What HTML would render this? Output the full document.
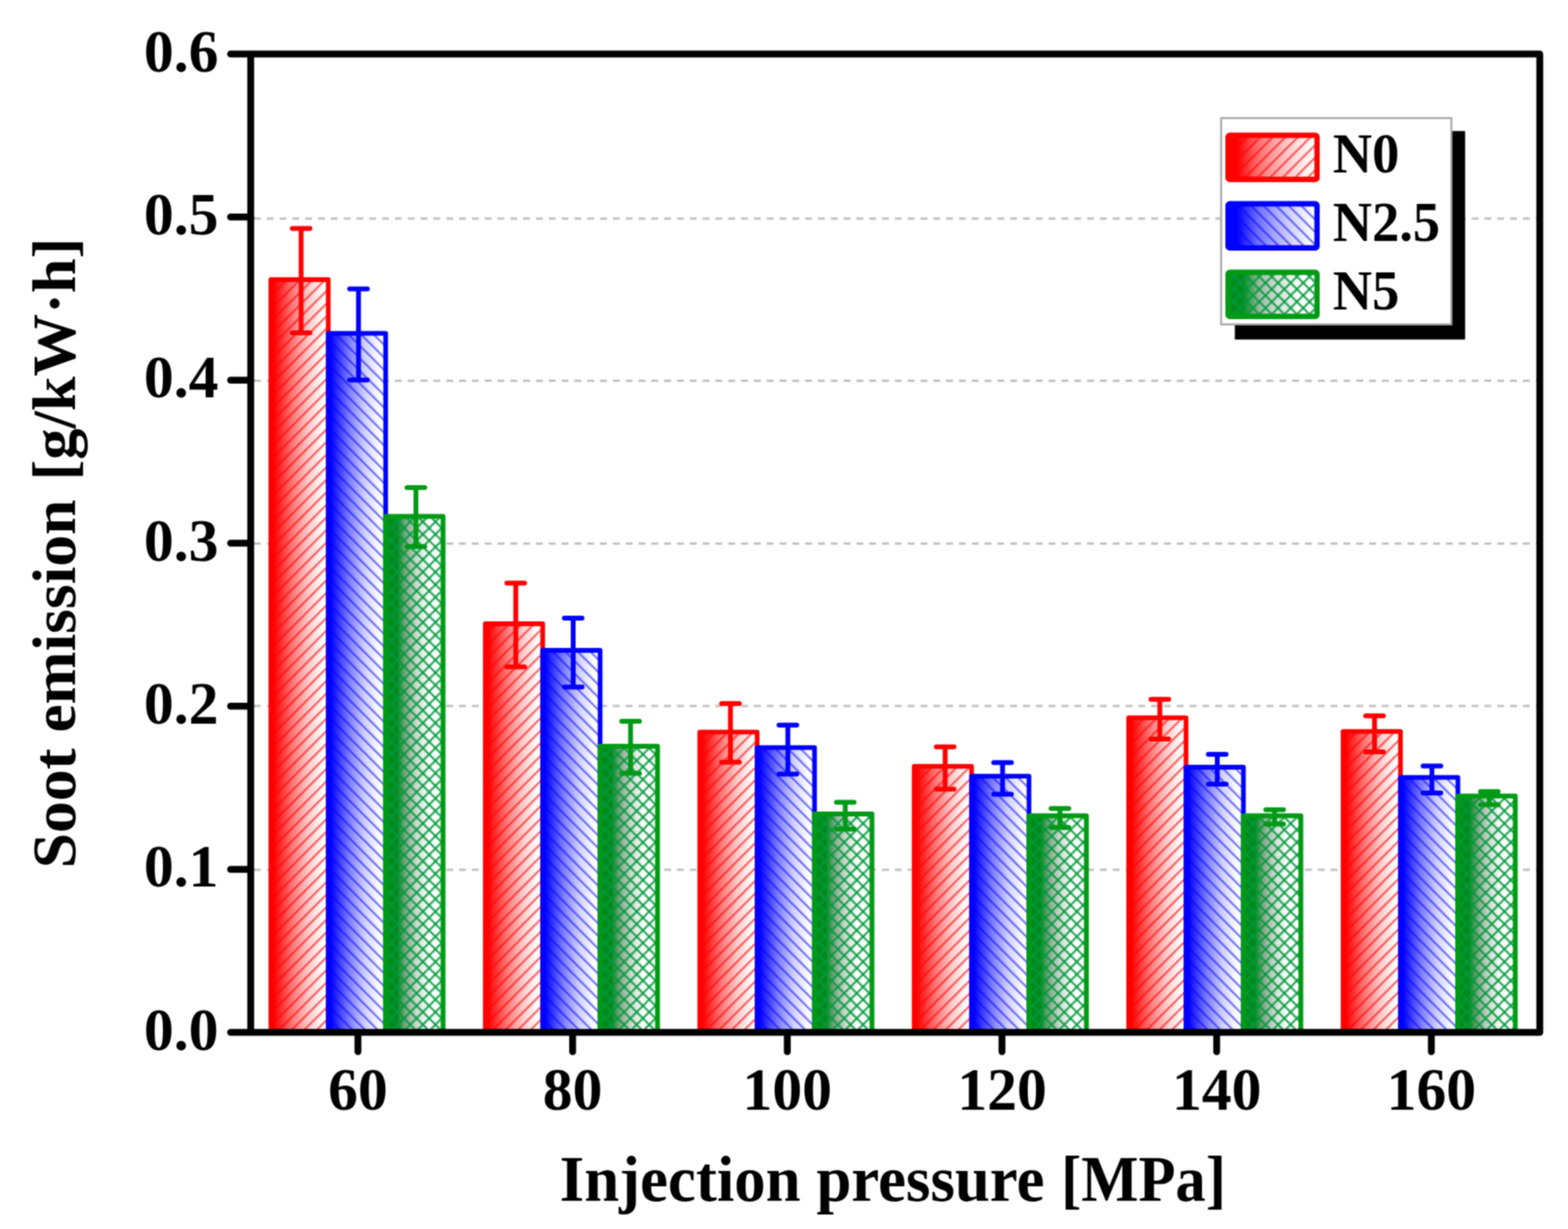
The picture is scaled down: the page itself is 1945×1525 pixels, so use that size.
<!DOCTYPE html><html><head><meta charset="utf-8"><title>Soot emission vs injection pressure</title>
<style>html,body{margin:0;padding:0;background:#fff;}svg{display:block;}text{font-family:"Liberation Serif","Times New Roman",serif;font-weight:bold;fill:#000;}</style></head><body>
<svg width="1945" height="1525" viewBox="0 0 1945 1525">
<defs>
<linearGradient id="gR" x1="0" y1="0" x2="1" y2="0"><stop offset="0.05" stop-color="#ff0000"/><stop offset="0.38" stop-color="#ff7878"/><stop offset="0.66" stop-color="#ffcccc"/><stop offset="0.92" stop-color="#ffffff"/></linearGradient>
<linearGradient id="gB" x1="0" y1="0" x2="1" y2="0"><stop offset="0.04" stop-color="#0000ff"/><stop offset="0.36" stop-color="#7a7aff"/><stop offset="0.64" stop-color="#d0d0ff"/><stop offset="0.9" stop-color="#ffffff"/></linearGradient>
<linearGradient id="gG" x1="0" y1="0" x2="1" y2="0"><stop offset="0.2" stop-color="#008a1c"/><stop offset="0.36" stop-color="#88a88e"/><stop offset="0.54" stop-color="#cdd8cf"/><stop offset="0.76" stop-color="#ffffff"/></linearGradient>
<linearGradient id="gRL" x1="0" y1="0" x2="1" y2="0"><stop offset="0.1" stop-color="#ff0000"/><stop offset="0.33" stop-color="#ff6a6a"/><stop offset="0.52" stop-color="#ffa4a4"/><stop offset="0.72" stop-color="#ffd4d4"/><stop offset="0.96" stop-color="#ffffff"/></linearGradient>
<linearGradient id="gBL" x1="0" y1="0" x2="1" y2="0"><stop offset="0.1" stop-color="#0000ff"/><stop offset="0.33" stop-color="#6a6aff"/><stop offset="0.52" stop-color="#a4a4ff"/><stop offset="0.72" stop-color="#d4d4ff"/><stop offset="0.96" stop-color="#ffffff"/></linearGradient>
<linearGradient id="gGL" x1="0" y1="0" x2="1" y2="0"><stop offset="0.17" stop-color="#008c1c"/><stop offset="0.35" stop-color="#9cb8a0"/><stop offset="0.55" stop-color="#d4ded6"/><stop offset="0.82" stop-color="#ffffff"/></linearGradient>
<pattern id="hR" patternUnits="userSpaceOnUse" width="11.031" height="20" patternTransform="rotate(45)"><rect x="0" y="0" width="2.4" height="20" fill="#ff0000" fill-opacity="0.62"/></pattern>
<pattern id="hB" patternUnits="userSpaceOnUse" width="11.031" height="20" patternTransform="rotate(-45)"><rect x="0" y="0" width="2.4" height="20" fill="#0000ff" fill-opacity="0.55"/></pattern>
<pattern id="hG1" patternUnits="userSpaceOnUse" width="11.031" height="20" patternTransform="rotate(45)"><rect x="0" y="0" width="2.7" height="20" fill="#009a3c" fill-opacity="0.8"/></pattern>
<pattern id="hG2" patternUnits="userSpaceOnUse" width="11.031" height="20" patternTransform="rotate(-45)"><rect x="0" y="0" width="2.7" height="20" fill="#009a3c" fill-opacity="0.8"/></pattern>
<filter id="soft" x="0" y="0" width="1" height="1" filterUnits="objectBoundingBox" color-interpolation-filters="sRGB"><feConvolveMatrix order="3" kernelMatrix="1 2 1 2 4 2 1 2 1" divisor="16" edgeMode="duplicate" preserveAlpha="false"/></filter>
</defs>
<g filter="url(#soft)">
<rect x="0" y="0" width="1945" height="1525" fill="#fff"/>
<line x1="315.0" y1="1079.3" x2="1906.0" y2="1079.3" stroke="#c2c2c2" stroke-width="3" stroke-dasharray="8.5 7.4"/>
<line x1="315.0" y1="875.9" x2="1906.0" y2="875.9" stroke="#c2c2c2" stroke-width="3" stroke-dasharray="8.5 7.4"/>
<line x1="315.0" y1="674.4" x2="1906.0" y2="674.4" stroke="#c2c2c2" stroke-width="3" stroke-dasharray="8.5 7.4"/>
<line x1="315.0" y1="472.4" x2="1906.0" y2="472.4" stroke="#c2c2c2" stroke-width="3" stroke-dasharray="8.5 7.4"/>
<line x1="315.0" y1="271.3" x2="1906.0" y2="271.3" stroke="#c2c2c2" stroke-width="3" stroke-dasharray="8.5 7.4"/>
<rect x="336.00" y="347.00" width="71.20" height="934.00" fill="url(#gR)"/><rect x="336.00" y="347.00" width="71.20" height="934.00" fill="url(#hR)"/><path d="M336.00 1281.0V347.00H407.20V1281.0" fill="none" stroke="#ff0000" stroke-width="5.8" stroke-linejoin="round"/>
<path d="M373.50 283.60V413.00M362.50 283.60H384.50M362.50 413.00H384.50" fill="none" stroke="#ff0000" stroke-width="6" stroke-linecap="round"/>
<rect x="407.20" y="413.70" width="71.20" height="867.30" fill="url(#gB)"/><rect x="407.20" y="413.70" width="71.20" height="867.30" fill="url(#hB)"/><path d="M407.20 1281.0V413.70H478.40V1281.0" fill="none" stroke="#0000ff" stroke-width="5.8" stroke-linejoin="round"/>
<path d="M444.70 358.50V471.50M433.70 358.50H455.70M433.70 471.50H455.70" fill="none" stroke="#0000ff" stroke-width="6" stroke-linecap="round"/>
<rect x="478.40" y="640.80" width="71.20" height="640.20" fill="url(#gG)"/><rect x="478.40" y="640.80" width="71.20" height="640.20" fill="url(#hG1)"/><rect x="478.40" y="640.80" width="71.20" height="640.20" fill="url(#hG2)"/><path d="M478.40 1281.0V640.80H549.60V1281.0" fill="none" stroke="#009a14" stroke-width="6.0" stroke-linejoin="round"/>
<path d="M515.90 605.00V678.30M504.90 605.00H526.90M504.90 678.30H526.90" fill="none" stroke="#009a14" stroke-width="6" stroke-linecap="round"/>
<rect x="602.00" y="774.00" width="71.20" height="507.00" fill="url(#gR)"/><rect x="602.00" y="774.00" width="71.20" height="507.00" fill="url(#hR)"/><path d="M602.00 1281.0V774.00H673.20V1281.0" fill="none" stroke="#ff0000" stroke-width="5.8" stroke-linejoin="round"/>
<path d="M639.80 723.40V827.60M628.80 723.40H650.80M628.80 827.60H650.80" fill="none" stroke="#ff0000" stroke-width="6" stroke-linecap="round"/>
<rect x="673.20" y="807.00" width="71.20" height="474.00" fill="url(#gB)"/><rect x="673.20" y="807.00" width="71.20" height="474.00" fill="url(#hB)"/><path d="M673.20 1281.0V807.00H744.40V1281.0" fill="none" stroke="#0000ff" stroke-width="5.8" stroke-linejoin="round"/>
<path d="M711.00 767.00V852.40M700.00 767.00H722.00M700.00 852.40H722.00" fill="none" stroke="#0000ff" stroke-width="6" stroke-linecap="round"/>
<rect x="744.40" y="926.00" width="71.20" height="355.00" fill="url(#gG)"/><rect x="744.40" y="926.00" width="71.20" height="355.00" fill="url(#hG1)"/><rect x="744.40" y="926.00" width="71.20" height="355.00" fill="url(#hG2)"/><path d="M744.40 1281.0V926.00H815.60V1281.0" fill="none" stroke="#009a14" stroke-width="6.0" stroke-linejoin="round"/>
<path d="M782.20 895.00V959.40M771.20 895.00H793.20M771.20 959.40H793.20" fill="none" stroke="#009a14" stroke-width="6" stroke-linecap="round"/>
<rect x="868.00" y="908.40" width="71.20" height="372.60" fill="url(#gR)"/><rect x="868.00" y="908.40" width="71.20" height="372.60" fill="url(#hR)"/><path d="M868.00 1281.0V908.40H939.20V1281.0" fill="none" stroke="#ff0000" stroke-width="5.8" stroke-linejoin="round"/>
<path d="M906.10 873.00V945.70M895.10 873.00H917.10M895.10 945.70H917.10" fill="none" stroke="#ff0000" stroke-width="6" stroke-linecap="round"/>
<rect x="939.20" y="927.70" width="71.20" height="353.30" fill="url(#gB)"/><rect x="939.20" y="927.70" width="71.20" height="353.30" fill="url(#hB)"/><path d="M939.20 1281.0V927.70H1010.40V1281.0" fill="none" stroke="#0000ff" stroke-width="5.8" stroke-linejoin="round"/>
<path d="M977.30 899.80V960.50M966.30 899.80H988.30M966.30 960.50H988.30" fill="none" stroke="#0000ff" stroke-width="6" stroke-linecap="round"/>
<rect x="1010.40" y="1010.00" width="71.20" height="271.00" fill="url(#gG)"/><rect x="1010.40" y="1010.00" width="71.20" height="271.00" fill="url(#hG1)"/><rect x="1010.40" y="1010.00" width="71.20" height="271.00" fill="url(#hG2)"/><path d="M1010.40 1281.0V1010.00H1081.60V1281.0" fill="none" stroke="#009a14" stroke-width="6.0" stroke-linejoin="round"/>
<path d="M1048.50 995.60V1028.70M1037.50 995.60H1059.50M1037.50 1028.70H1059.50" fill="none" stroke="#009a14" stroke-width="6" stroke-linecap="round"/>
<rect x="1134.00" y="950.90" width="71.20" height="330.10" fill="url(#gR)"/><rect x="1134.00" y="950.90" width="71.20" height="330.10" fill="url(#hR)"/><path d="M1134.00 1281.0V950.90H1205.20V1281.0" fill="none" stroke="#ff0000" stroke-width="5.8" stroke-linejoin="round"/>
<path d="M1172.40 926.80V979.30M1161.40 926.80H1183.40M1161.40 979.30H1183.40" fill="none" stroke="#ff0000" stroke-width="6" stroke-linecap="round"/>
<rect x="1205.20" y="963.20" width="71.20" height="317.80" fill="url(#gB)"/><rect x="1205.20" y="963.20" width="71.20" height="317.80" fill="url(#hB)"/><path d="M1205.20 1281.0V963.20H1276.40V1281.0" fill="none" stroke="#0000ff" stroke-width="5.8" stroke-linejoin="round"/>
<path d="M1243.60 946.30V985.40M1232.60 946.30H1254.60M1232.60 985.40H1254.60" fill="none" stroke="#0000ff" stroke-width="6" stroke-linecap="round"/>
<rect x="1276.40" y="1012.30" width="71.20" height="268.70" fill="url(#gG)"/><rect x="1276.40" y="1012.30" width="71.20" height="268.70" fill="url(#hG1)"/><rect x="1276.40" y="1012.30" width="71.20" height="268.70" fill="url(#hG2)"/><path d="M1276.40 1281.0V1012.30H1347.60V1281.0" fill="none" stroke="#009a14" stroke-width="6.0" stroke-linejoin="round"/>
<path d="M1314.80 1003.30V1026.80M1303.80 1003.30H1325.80M1303.80 1026.80H1325.80" fill="none" stroke="#009a14" stroke-width="6" stroke-linecap="round"/>
<rect x="1400.00" y="890.70" width="71.20" height="390.30" fill="url(#gR)"/><rect x="1400.00" y="890.70" width="71.20" height="390.30" fill="url(#hR)"/><path d="M1400.00 1281.0V890.70H1471.20V1281.0" fill="none" stroke="#ff0000" stroke-width="5.8" stroke-linejoin="round"/>
<path d="M1438.70 867.70V916.90M1427.70 867.70H1449.70M1427.70 916.90H1449.70" fill="none" stroke="#ff0000" stroke-width="6" stroke-linecap="round"/>
<rect x="1471.20" y="952.00" width="71.20" height="329.00" fill="url(#gB)"/><rect x="1471.20" y="952.00" width="71.20" height="329.00" fill="url(#hB)"/><path d="M1471.20 1281.0V952.00H1542.40V1281.0" fill="none" stroke="#0000ff" stroke-width="5.8" stroke-linejoin="round"/>
<path d="M1509.90 935.90V973.00M1498.90 935.90H1520.90M1498.90 973.00H1520.90" fill="none" stroke="#0000ff" stroke-width="6" stroke-linecap="round"/>
<rect x="1542.40" y="1012.30" width="71.20" height="268.70" fill="url(#gG)"/><rect x="1542.40" y="1012.30" width="71.20" height="268.70" fill="url(#hG1)"/><rect x="1542.40" y="1012.30" width="71.20" height="268.70" fill="url(#hG2)"/><path d="M1542.40 1281.0V1012.30H1613.60V1281.0" fill="none" stroke="#009a14" stroke-width="6.0" stroke-linejoin="round"/>
<path d="M1581.10 1004.80V1022.50M1570.10 1004.80H1592.10M1570.10 1022.50H1592.10" fill="none" stroke="#009a14" stroke-width="6" stroke-linecap="round"/>
<rect x="1666.00" y="907.60" width="71.20" height="373.40" fill="url(#gR)"/><rect x="1666.00" y="907.60" width="71.20" height="373.40" fill="url(#hR)"/><path d="M1666.00 1281.0V907.60H1737.20V1281.0" fill="none" stroke="#ff0000" stroke-width="5.8" stroke-linejoin="round"/>
<path d="M1705.00 888.20V933.00M1694.00 888.20H1716.00M1694.00 933.00H1716.00" fill="none" stroke="#ff0000" stroke-width="6" stroke-linecap="round"/>
<rect x="1737.20" y="964.70" width="71.20" height="316.30" fill="url(#gB)"/><rect x="1737.20" y="964.70" width="71.20" height="316.30" fill="url(#hB)"/><path d="M1737.20 1281.0V964.70H1808.40V1281.0" fill="none" stroke="#0000ff" stroke-width="5.8" stroke-linejoin="round"/>
<path d="M1776.20 950.50V984.10M1765.20 950.50H1787.20M1765.20 984.10H1787.20" fill="none" stroke="#0000ff" stroke-width="6" stroke-linecap="round"/>
<rect x="1808.40" y="987.80" width="71.20" height="293.20" fill="url(#gG)"/><rect x="1808.40" y="987.80" width="71.20" height="293.20" fill="url(#hG1)"/><rect x="1808.40" y="987.80" width="71.20" height="293.20" fill="url(#hG2)"/><path d="M1808.40 1281.0V987.80H1879.60V1281.0" fill="none" stroke="#009a14" stroke-width="6.0" stroke-linejoin="round"/>
<path d="M1847.40 982.30V998.60M1836.40 982.30H1858.40M1836.40 998.60H1858.40" fill="none" stroke="#009a14" stroke-width="6" stroke-linecap="round"/>
<rect x="311.0" y="67.0" width="1599.0" height="1214.0" fill="none" stroke="#000" stroke-width="8.5" stroke-linejoin="round"/>
<line x1="311.0" y1="1281.0" x2="286" y2="1281.0" stroke="#000" stroke-width="8.5" stroke-linecap="round"/>
<text x="271" y="1302.5" font-size="74" text-anchor="end">0.0</text>
<line x1="311.0" y1="1078.7" x2="286" y2="1078.7" stroke="#000" stroke-width="8.5" stroke-linecap="round"/>
<text x="271" y="1100.2" font-size="74" text-anchor="end">0.1</text>
<line x1="311.0" y1="876.3" x2="286" y2="876.3" stroke="#000" stroke-width="8.5" stroke-linecap="round"/>
<text x="271" y="897.8" font-size="74" text-anchor="end">0.2</text>
<line x1="311.0" y1="674.0" x2="286" y2="674.0" stroke="#000" stroke-width="8.5" stroke-linecap="round"/>
<text x="271" y="695.5" font-size="74" text-anchor="end">0.3</text>
<line x1="311.0" y1="471.7" x2="286" y2="471.7" stroke="#000" stroke-width="8.5" stroke-linecap="round"/>
<text x="271" y="493.2" font-size="74" text-anchor="end">0.4</text>
<line x1="311.0" y1="269.3" x2="286" y2="269.3" stroke="#000" stroke-width="8.5" stroke-linecap="round"/>
<text x="271" y="290.8" font-size="74" text-anchor="end">0.5</text>
<line x1="311.0" y1="67.0" x2="286" y2="67.0" stroke="#000" stroke-width="8.5" stroke-linecap="round"/>
<text x="271" y="88.5" font-size="74" text-anchor="end">0.6</text>
<line x1="444.0" y1="1281.0" x2="444.0" y2="1305" stroke="#000" stroke-width="8.5" stroke-linecap="round"/>
<text x="444.0" y="1377" font-size="74" text-anchor="middle">60</text>
<line x1="710.3" y1="1281.0" x2="710.3" y2="1305" stroke="#000" stroke-width="8.5" stroke-linecap="round"/>
<text x="710.3" y="1377" font-size="74" text-anchor="middle">80</text>
<line x1="976.6" y1="1281.0" x2="976.6" y2="1305" stroke="#000" stroke-width="8.5" stroke-linecap="round"/>
<text x="976.6" y="1377" font-size="74" text-anchor="middle">100</text>
<line x1="1242.9" y1="1281.0" x2="1242.9" y2="1305" stroke="#000" stroke-width="8.5" stroke-linecap="round"/>
<text x="1242.9" y="1377" font-size="74" text-anchor="middle">120</text>
<line x1="1509.2" y1="1281.0" x2="1509.2" y2="1305" stroke="#000" stroke-width="8.5" stroke-linecap="round"/>
<text x="1509.2" y="1377" font-size="74" text-anchor="middle">140</text>
<line x1="1775.5" y1="1281.0" x2="1775.5" y2="1305" stroke="#000" stroke-width="8.5" stroke-linecap="round"/>
<text x="1775.5" y="1377" font-size="74" text-anchor="middle">160</text>
<text x="694.35" y="1489.6" font-size="79.5" textLength="601.3" lengthAdjust="spacingAndGlyphs">Injection pressure</text>
<text x="1316.3" y="1489.6" font-size="79.5" textLength="204.4" lengthAdjust="spacingAndGlyphs">[MPa]</text>
<text transform="translate(93 1077.6) rotate(-90)" font-size="75.5" textLength="457.7" lengthAdjust="spacingAndGlyphs" x="0" y="0">Soot emission</text>
<text transform="translate(93 596.2) rotate(-90)" font-size="75.5" textLength="301.3" lengthAdjust="spacingAndGlyphs" x="0" y="0">[g/kW·h]</text>
<rect x="1531.7" y="162.6" width="285.7" height="258.7" fill="#000"/>
<rect x="1514.8" y="146.5" width="285.5" height="256" fill="#fff" stroke="#a8a8a8" stroke-width="2.5"/>
<rect x="1523.3" y="167.9" width="110.4" height="54.699999999999996" fill="url(#gRL)"/>
<rect x="1523.3" y="167.9" width="110.4" height="54.699999999999996" fill="url(#hR)"/>
<rect x="1523.3" y="167.9" width="110.4" height="54.699999999999996" rx="2" fill="none" stroke="#ff0000" stroke-width="6.6"/>
<text x="0" y="0" font-size="70" transform="translate(1653.2 214.1) scale(0.965 1)">N0</text>
<rect x="1523.3" y="252.9" width="110.4" height="54.699999999999996" fill="url(#gBL)"/>
<rect x="1523.3" y="252.9" width="110.4" height="54.699999999999996" fill="url(#hB)"/>
<rect x="1523.3" y="252.9" width="110.4" height="54.699999999999996" rx="2" fill="none" stroke="#0000ff" stroke-width="6.6"/>
<text x="0" y="0" font-size="70" transform="translate(1653.2 299.0) scale(0.965 1)">N2.5</text>
<rect x="1523.3" y="337.90000000000003" width="110.4" height="54.699999999999996" fill="url(#gGL)"/>
<rect x="1523.3" y="337.90000000000003" width="110.4" height="54.699999999999996" fill="url(#hG1)"/>
<rect x="1523.3" y="337.90000000000003" width="110.4" height="54.699999999999996" fill="url(#hG2)"/>
<rect x="1523.3" y="337.90000000000003" width="110.4" height="54.699999999999996" rx="2" fill="none" stroke="#009a14" stroke-width="6.6"/>
<text x="0" y="0" font-size="70" transform="translate(1653.2 383.9) scale(0.965 1)">N5</text>
</g>
</svg></body></html>
